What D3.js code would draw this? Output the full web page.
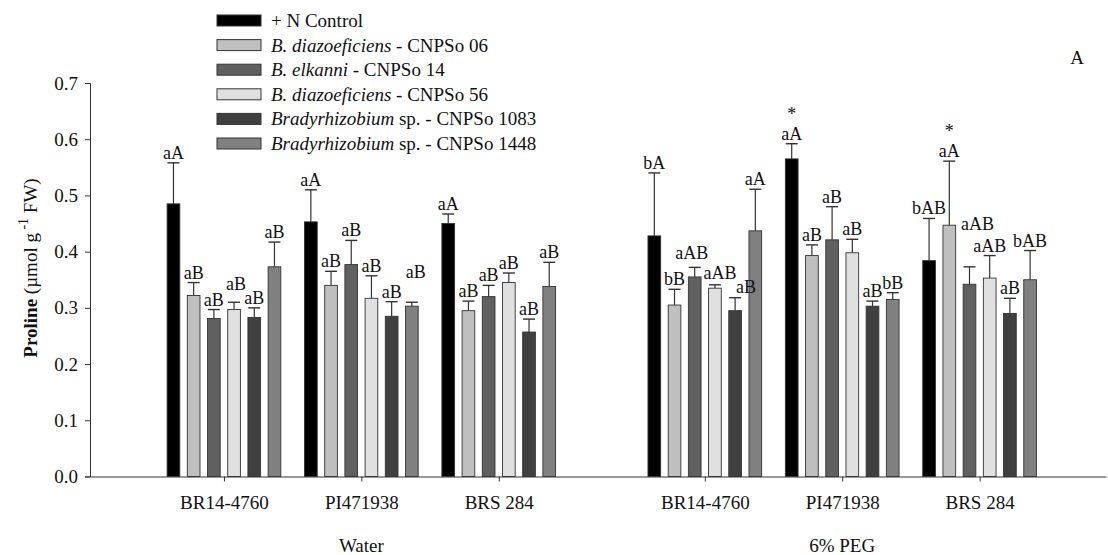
<!DOCTYPE html>
<html>
<head>
<meta charset="utf-8">
<script src="https://cdn.jsdelivr.net/npm/d3@7"></script>
<style>
  body { margin: 0; background: #fff; }
  svg { display: block; font-family: "Liberation Serif", "Times New Roman", serif; }
</style>
</head>
<body>
<svg id="chart" width="1108" height="555"></svg>
<script>
// ---------- data ----------
const cultivars = ["BR14-4760", "PI471938", "BRS 284", "BR14-4760", "PI471938", "BRS 284"];
const groupPositions = [1, 2, 3, 4.5, 5.5, 6.5];
const conditions = ["Water", "6% PEG"];
const conditionCenters = [2, 5.5];
const yTicks = [0, 0.1, 0.2, 0.3, 0.4, 0.5, 0.6, 0.7];

const seriesNames = [
  [["+ N Control", false]],
  [["B. diazoeficiens", true], [" - CNPSo 06", false]],
  [["B. elkanni", true], [" - CNPSo 14", false]],
  [["B. diazoeficiens", true], [" - CNPSo 56", false]],
  [["Bradyrhizobium", true], [" sp. - CNPSo 1083", false]],
  [["Bradyrhizobium", true], [" sp. - CNPSo 1448", false]]
];
const seriesColors = ["#000000", "#bfbfbf", "#606060", "#e0e0e0", "#404040", "#808080"];

// mean values per series, one per cultivar group
const ctrlN    = [0.485, 0.453, 0.450, 0.428, 0.565, 0.384];
const cnpso06  = [0.322, 0.340, 0.295, 0.305, 0.393, 0.447];
const cnpso14  = [0.281, 0.377, 0.320, 0.355, 0.421, 0.342];
const cnpso56  = [0.297, 0.317, 0.345, 0.335, 0.398, 0.353];
const cnpso1083 = [0.283, 0.285, 0.257, 0.295, 0.303, 0.290];
const cnpso1448 = [0.373, 0.303, 0.338, 0.437, 0.315, 0.350];

// upper error (standard error)
const errCtrlN = [0.073, 0.057, 0.017, 0.112, 0.027, 0.075];
const err06    = [0.023, 0.025, 0.017, 0.028, 0.019, 0.114];
const err14    = [0.016, 0.043, 0.020, 0.017, 0.059, 0.031];
const err56    = [0.013, 0.040, 0.017, 0.006, 0.024, 0.040];
const err1083  = [0.017, 0.026, 0.023, 0.023, 0.009, 0.027];
const err1448  = [0.044, 0.007, 0.043, 0.074, 0.012, 0.052];

// letters above bars
const lblCtrlN = ["aA", "aA", "aA", "bA", "aA", "bAB"];
const lbl06    = ["aB", "aB", "aB", "bB", "aB", "aA"];
const lbl14    = ["aB", "aB", "aB", "aAB", "aB", "aAB"];
const lbl56    = ["aB", "aB", "aB", "aAB", "aB", "aAB"];
const lbl1083  = ["aB", "aB", "aB", "aB", "aB", "aB"];
const lbl1448  = ["aB", "aB", "aB", "aA", "bB", "bAB"];

// asterisks
const starCtrlN = [false, false, false, false, true, false];
const star06    = [false, false, false, false, false, true];

const values = [ctrlN, cnpso06, cnpso14, cnpso56, cnpso1083, cnpso1448];
const errors = [errCtrlN, err06, err14, err56, err1083, err1448];
const labels = [lblCtrlN, lbl06, lbl14, lbl56, lbl1083, lbl1448];
const noStar = [false, false, false, false, false, false];
const stars = [starCtrlN, star06, noStar, noStar, noStar, noStar];

// ---------- layout ----------
// manual nudges of crowded letter labels, keyed "series-group": [dx, dy] in px
const labelNudge = {
  "2-5": [8, -33], "3-3": [5, -2], "2-3": [-3, -4], "4-3": [11, -1],
  "5-1": [4, -20], "3-0": [2, -8]
};

const svg = d3.select("#chart");
const x = d3.scaleLinear().domain([0.025, 7.42]).range([90, 1106]);
const y = d3.scaleLinear().domain([0, 0.7]).range([476.5, 83]);
const barPitch = 20.2, barW = 12.7;
const ink = "#333";
const FS = 19;

const records = [];
values.forEach((vals, s) => {
  vals.forEach((v, g) => {
    records.push({ s, g, v, e: errors[s][g], lab: labels[s][g], star: stars[s][g],
      cx: x(groupPositions[g]) + (s - 2.5) * barPitch });
  });
});

// error bars (upper only)
const eb = svg.append("g");
records.forEach(d => {
  eb.append("line").attr("x1", d.cx).attr("x2", d.cx)
    .attr("y1", y(d.v)).attr("y2", y(d.v + d.e))
    .attr("stroke", ink).attr("stroke-width", 1.2);
  eb.append("line").attr("x1", d.cx - 6).attr("x2", d.cx + 6)
    .attr("y1", y(d.v + d.e)).attr("y2", y(d.v + d.e))
    .attr("stroke", ink).attr("stroke-width", 1.4);
});

svg.append("g").selectAll("rect").data(records).join("rect")
  .attr("x", d => d.cx - barW / 2)
  .attr("width", barW)
  .attr("y", d => y(d.v))
  .attr("height", d => y(0) - y(d.v))
  .attr("fill", d => seriesColors[d.s])
  .attr("stroke", ink).attr("stroke-width", 0.9);

// letters
const lg = svg.append("g").attr("font-size", 18).attr("text-anchor", "middle").attr("fill", "#111");
records.forEach(d => {
  const top = y(d.v + d.e);
  const nd = labelNudge[d.s + "-" + d.g] || [0, 0];
  lg.append("text").attr("x", d.cx + nd[0]).attr("y", top - 4 + nd[1]).text(d.lab);
  if (d.star) lg.append("text").attr("x", d.cx).attr("y", top - 24).attr("font-size", 18).text("*");
});

// y axis
const yAxis = svg.append("g").attr("transform", `translate(${x.range()[0]},0)`)
  .call(d3.axisLeft(y).tickValues(yTicks).tickFormat(d3.format(".1f")).tickSize(5).tickPadding(7));
yAxis.attr("font-family", null).attr("font-size", null);
yAxis.selectAll("text").attr("font-size", FS).attr("fill", "#111");
yAxis.selectAll("line,path").attr("stroke", ink);

// x axis
const xAxis = svg.append("g").attr("transform", `translate(0,${y(0)})`)
  .call(d3.axisBottom(x).tickValues(groupPositions).tickFormat((d, i) => cultivars[i])
    .tickSize(5).tickSizeOuter(0).tickPadding(14));
xAxis.attr("font-family", null).attr("font-size", null);
xAxis.selectAll("text").attr("font-size", FS).attr("fill", "#111");
xAxis.selectAll("line,path").attr("stroke", ink);

// condition labels
svg.append("g").selectAll("text").data(conditions).join("text")
  .attr("x", (d, i) => x(conditionCenters[i])).attr("y", 552)
  .attr("text-anchor", "middle").attr("font-size", FS).attr("fill", "#111").text(d => d);

// y title
const yt = svg.append("text").attr("transform", "translate(37,268) rotate(-90)")
  .attr("text-anchor", "middle").attr("font-size", FS).attr("fill", "#111");
yt.append("tspan").attr("font-weight", "bold").text("Proline");
yt.append("tspan").text(" (µmol g");
yt.append("tspan").attr("font-size", 14).attr("dy", -9).text(" -1");
yt.append("tspan").attr("dy", 9).text(" FW)");

// panel letter
svg.append("text").attr("x", 1077).attr("y", 64).attr("text-anchor", "middle")
  .attr("font-size", FS).attr("fill", "#111").text("A");

// legend
const leg = svg.append("g");
seriesNames.forEach((parts, i) => {
  const cy = 20.5 + i * 24.6;
  leg.append("rect").attr("x", 217).attr("y", cy - 5.5).attr("width", 44).attr("height", 11)
    .attr("fill", seriesColors[i]).attr("stroke", ink).attr("stroke-width", 1);
  const t = leg.append("text").attr("x", 271).attr("y", cy + 6.5).attr("font-size", FS).attr("fill", "#111");
  parts.forEach(([txt, it]) => {
    t.append("tspan").attr("font-style", it ? "italic" : "normal").text(txt);
  });
});
</script>
</body>
</html>
